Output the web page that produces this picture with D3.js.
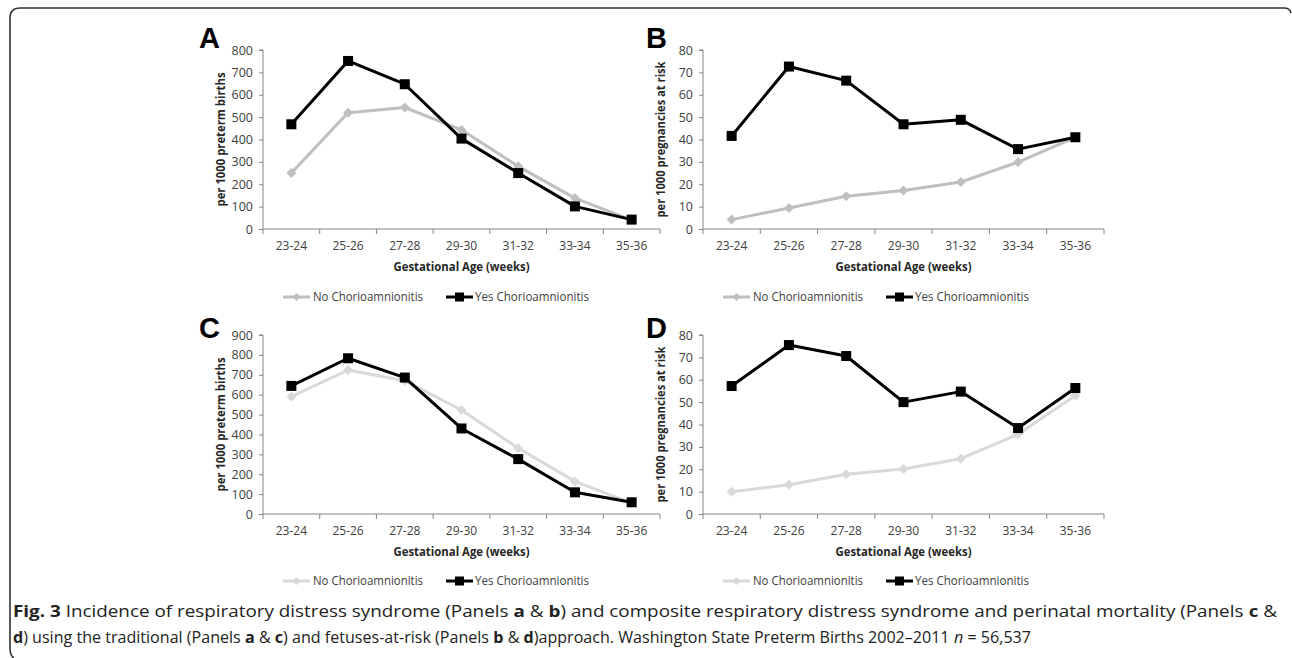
<!DOCTYPE html>
<html><head><meta charset="utf-8">
<script src="https://cdn.jsdelivr.net/npm/d3@7"></script>
<style>body{margin:0;background:#fff}svg{display:block}</style>
</head><body>
<script>
const categories = ["23-24","25-26","27-28","29-30","31-32","33-34","35-36"];
const aNo  = [250, 520, 543, 443, 280, 138, 40];
const aYes = [468, 751, 647, 404, 250, 101, 42];
const bNo  = [4.2, 9.4, 14.6, 17.2, 21.0, 29.9, 41];
const bYes = [41.6, 72.6, 66.3, 46.8, 48.8, 35.7, 41];
const cNo  = [590, 724, 670, 523, 331, 164, 55];
const cYes = [644, 783, 686, 430, 276, 109, 59];
const dNo  = [9.9, 13.1, 17.8, 20.1, 24.7, 35.6, 53];
const dYes = [57.2, 75.5, 70.6, 50.0, 54.7, 38.4, 56.3];
const ticksA = [0,100,200,300,400,500,600,700,800];
const ticksC = [0,100,200,300,400,500,600,700,800,900];
const ticksBD = [0,10,20,30,40,50,60,70,80];
const seriesNames = ["No Chorioamnionitis","Yes Chorioamnionitis"];
const xTitle = "Gestational Age (weeks)";
const yTitleTrad = "per 1000 preterm births";
const yTitleFar = "per 1000 pregnancies at risk";

const W = 1292, H = 658;
const svg = d3.select("body").append("svg").attr("width", W).attr("height", H);
const FONT = "'Open Sans', sans-serif";
const AXIS = "#868686";

const panels = [
  {letter:"A", no:aNo, yes:aYes, ticks:ticksA, max:800, yTitle:yTitleTrad, yLen:134, x0:263, x1:660, y0:50, y1:229, noColor:"#bfbfbf", lx:199, ly:48, legendY:297},
  {letter:"B", no:bNo, yes:bYes, ticks:ticksBD, max:80, yTitle:yTitleFar, yLen:156, x0:703, x1:1104, y0:50, y1:229, noColor:"#bfbfbf", lx:646, ly:48, legendY:297},
  {letter:"C", no:cNo, yes:cYes, ticks:ticksC, max:900, yTitle:yTitleTrad, yLen:134, x0:263, x1:660, y0:335, y1:514, noColor:"#d9d9d9", lx:199, ly:338, legendY:581},
  {letter:"D", no:dNo, yes:dYes, ticks:ticksBD, max:80, yTitle:yTitleFar, yLen:156, x0:703, x1:1104, y0:335, y1:514, noColor:"#d9d9d9", lx:646, ly:338, legendY:581}
];

function diamond(g, x, y, r, color){
  g.append("path").attr("d", `M${x},${y-r}L${x+r},${y}L${x},${y+r}L${x-r},${y}Z`).attr("fill", color);
}
function square(g, x, y, s, color){
  g.append("rect").attr("x", x-s/2).attr("y", y-s/2).attr("width", s).attr("height", s).attr("fill", color);
}

panels.forEach(p => {
  const g = svg.append("g");
  const x = d3.scaleBand().domain(categories).range([p.x0, p.x1]).paddingInner(0).paddingOuter(0);
  const y = d3.scaleLinear().domain([0, p.max]).range([p.y1, p.y0]);
  const cx = c => x(c) + x.bandwidth()/2;

  const ya = g.append("g").attr("transform", `translate(${p.x0},0)`)
    .call(d3.axisLeft(y).tickValues(p.ticks).tickSize(4).tickPadding(6).tickFormat(d3.format("d")));
  ya.select(".domain").attr("stroke", AXIS).attr("d", `M-4,${p.y0}H0V${p.y1}`);
  ya.selectAll(".tick line").attr("stroke", AXIS);
  ya.selectAll("text").attr("font-family", FONT).attr("font-size", 12.5).attr("fill", "#404040");

  const xa = g.append("g").attr("transform", `translate(0,${p.y1})`)
    .call(d3.axisBottom(x).tickSize(0).tickPadding(12));
  xa.select(".domain").attr("stroke", AXIS).attr("d", `M${p.x0},0H${p.x1}`);
  xa.selectAll("text").attr("font-family", FONT).attr("font-size", 12).attr("fill", "#404040");
  const bounds = categories.map(c => x(c)).concat([p.x1]);
  xa.selectAll(".btick").data(bounds).join("line").attr("class","btick")
    .attr("x1", d=>d).attr("x2", d=>d).attr("y1", 0).attr("y2", 5).attr("stroke", AXIS);

  g.append("text").attr("x", (p.x0+p.x1)/2).attr("y", p.y1+42).attr("text-anchor","middle")
    .attr("font-family", FONT).attr("font-size", 12.5).attr("font-weight","bold").attr("fill","#262626")
    .attr("textLength", 136).attr("lengthAdjust","spacingAndGlyphs").text(xTitle);
  g.append("text").attr("transform", `translate(${p.x0-38},${(p.y0+p.y1)/2}) rotate(-90)`).attr("text-anchor","middle")
    .attr("font-family", FONT).attr("font-size", 12.5).attr("font-weight","bold").attr("fill","#262626")
    .attr("textLength", p.yLen).attr("lengthAdjust","spacingAndGlyphs").text(p.yTitle);
  g.append("text").attr("x", p.lx).attr("y", p.ly).attr("font-family","'Liberation Sans', Arial, sans-serif")
    .attr("font-size", 29).attr("font-weight","bold").attr("fill","#000").text(p.letter);

  const line = d3.line().x((d,i)=>cx(categories[i])).y(d=>y(d));
  g.append("path").datum(p.no).attr("d", line).attr("fill","none").attr("stroke", p.noColor).attr("stroke-width", 3).attr("stroke-linejoin","round");
  p.no.forEach((v,i)=>diamond(g, cx(categories[i]), y(v), 5, p.noColor));
  g.append("path").datum(p.yes).attr("d", line).attr("fill","none").attr("stroke", "#000").attr("stroke-width", 3).attr("stroke-linejoin","round");
  p.yes.forEach((v,i)=>square(g, cx(categories[i]), y(v), 10, "#000"));

  const lx = p.x0 + 20, ly = p.legendY;
  const lg = g.append("g");
  lg.append("line").attr("x1", lx).attr("x2", lx+27).attr("y1", ly).attr("y2", ly).attr("stroke", p.noColor).attr("stroke-width", 3);
  diamond(lg, lx+13.5, ly, 4, p.noColor);
  lg.append("text").attr("x", lx+30).attr("y", ly).attr("dy","0.35em").attr("font-family", FONT).attr("font-size", 12).attr("fill","#404040")
    .attr("textLength", 110).attr("lengthAdjust","spacingAndGlyphs").text(seriesNames[0]);
  lg.append("line").attr("x1", lx+163).attr("x2", lx+190).attr("y1", ly).attr("y2", ly).attr("stroke", "#000").attr("stroke-width", 3);
  square(lg, lx+176.5, ly, 9, "#000");
  lg.append("text").attr("x", lx+192).attr("y", ly).attr("dy","0.35em").attr("font-family", FONT).attr("font-size", 12).attr("fill","#404040")
    .attr("textLength", 114).attr("lengthAdjust","spacingAndGlyphs").text(seriesNames[1]);
});

svg.append("path").attr("d", "M1291,13 Q1290,8 1284,8 L20,8 Q10,8 10,18 L10,648 Q10,656 14,658")
  .attr("fill","none").attr("stroke","#333").attr("stroke-width",1.6);

// caption: segments laid out one after another, then condensed horizontally
const CF = "'Open Sans', sans-serif";
function captionLine(parts, y, target){
  const g = svg.append("g");
  let xpos = 0;
  parts.forEach(([t,b]) => {
    const el = g.append("text").attr("x", xpos).attr("y", 0).attr("font-family", CF).attr("font-size", 16.5).attr("fill","#222")
      .attr("font-weight", b===1?"bold":"normal").attr("font-style", b===2?"italic":"normal")
      .style("white-space","pre").attr("xml:space","preserve").text(t);
    xpos += el.node().getComputedTextLength();
  });
  const sx = target / xpos;
  g.attr("transform", `translate(13,${y}) scale(${sx},1)`);
}
captionLine([["Fig. 3",1],[" Incidence of respiratory distress syndrome (Panels ",0],["a",1],[" & ",0],["b",1],[") and composite respiratory distress syndrome and perinatal mortality (Panels ",0],["c",1],[" &",0]], 617, 1264);
captionLine([["d",1],[") using the traditional (Panels ",0],["a",1],[" & ",0],["c",1],[") and fetuses-at-risk (Panels ",0],["b",1],[" & ",0],["d",1],[")approach. Washington State Preterm Births 2002–2011 ",0],["n",2],[" = 56,537",0]], 643, 1018);
</script>
</body></html>
